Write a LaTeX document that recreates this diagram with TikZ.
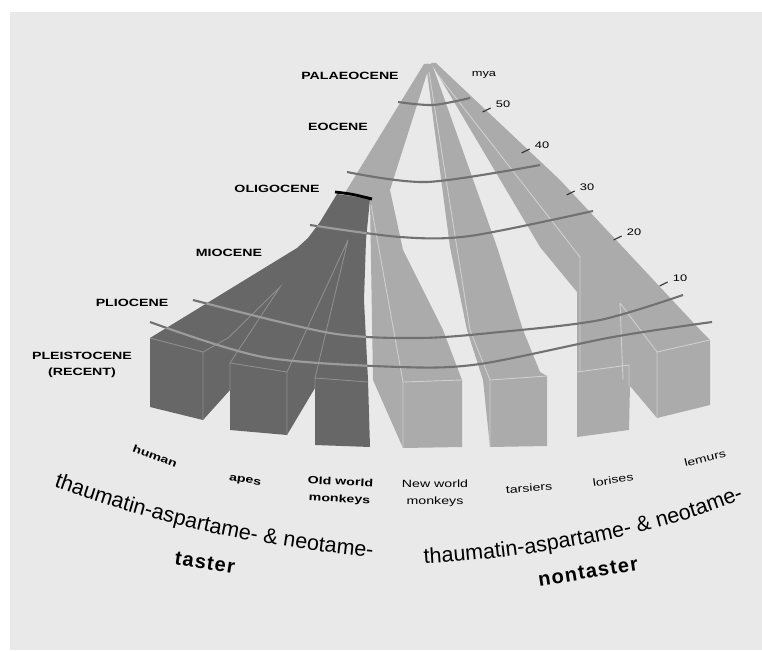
\documentclass[tikz,border=0pt]{standalone}
\usepackage{fontspec}
\setmainfont{Liberation Sans}
\newfontfamily\widefont{Liberation Sans}[FakeStretch=1.35]
\newfontfamily\trackfont{Liberation Sans}[LetterSpace=6]
\usetikzlibrary{decorations.text}
\definecolor{paper}{HTML}{E9E9E9}
\definecolor{bandlight}{HTML}{ABABAB}
\definecolor{banddark}{HTML}{676767}
\definecolor{arcline}{HTML}{717171}
\definecolor{arcpale}{HTML}{9C9C9C}
\definecolor{edgepale}{HTML}{CFCFCF}
\definecolor{edgedark}{HTML}{8E8E8E}
\newcommand{\trunkoutline}{(337,194) -- (370,199) -- (366,240) -- (364,300) -- (368,380)
  -- (370,447) -- (315,445) -- (315,388) -- (287,435) -- (230,430) -- (230,390)
  -- (203,420) -- (150,407) -- (150,338) -- (297,248) -- (308,238) -- (320,222) -- cycle}
\newcommand{\epocharcs}[1]{%
  \draw[#1] plot[smooth] coordinates {(398,102) (433,105) (470,98)};
  \draw[#1] plot[smooth] coordinates {(347,172) (427,182) (540,165)};
  \draw[#1] plot[smooth] coordinates {(310,225) (400,237) (470,236) (593,211)};
  \draw[#1] plot[smooth] coordinates {(193,300) (330,333) (420,338) (500,332) (600,320) (683,295)};
  \draw[#1] plot[smooth] coordinates {(150,322) (263,357) (400,367) (480,364) (613,337) (712,322)};}
\begin{document}
\begin{tikzpicture}[x=1pt,y=-1pt,
    band/.style={fill=bandlight},
    trunk/.style={fill=banddark},
    paleedge/.style={draw=edgepale,line width=0.9},
    darkedge/.style={draw=edgedark,line width=0.9},
    epoch/.style={inner sep=0,align=center,font={\widefont\bfseries\fontsize{10.5}{16}\selectfont}},
    taxon/.style={inner sep=0,align=center,font={\widefont\fontsize{10.5}{17}\selectfont}},
    tastertaxon/.style={taxon,font={\widefont\bfseries\fontsize{10.5}{17}\selectfont}},
    mya/.style={inner sep=0,font={\widefont\fontsize{9.5}{11}\selectfont}},
    tickmark/.style={draw=black!80,line width=1.1},
    verdict/.style={inner sep=0,font={\trackfont\bfseries\fontsize{20}{22}\selectfont}}]
\useasboundingbox (0,0) rectangle (762,652);
\fill[white] (0,0) rectangle (762,652);
\fill[paper] (10,12) rectangle (762,650);
% nontaster bands
\fill[band] (424,64) -- (430,64) -- (390,190) -- (403,250) -- (443,330) -- (462,380)
  -- (462,447) -- (403,448) -- (373,380) -- (370,200) -- (343,196) -- cycle;
\fill[band] (426,64) -- (432,64) -- (497,247) -- (523,330) -- (540,372) -- (547,376)
  -- (547,446) -- (490,447) -- (483,380) -- (467,330) -- (450,247) -- cycle;
\fill[band] (431,63) -- (436,63) -- (560,180) -- (703,333) -- (710,340) -- (710,405)
  -- (657,418) -- (630,386) -- (629,430) -- (577,437) -- (577,292) -- (540,247) -- cycle;
\draw[paleedge] (371,205) -- (403,382) -- (403,448) (403,382) -- (462,380);
\draw[paleedge] (429,72) -- (470,330) -- (490,380) -- (490,447) (490,380) -- (547,376);
\draw[paleedge] (438,75) -- (580,257) -- (580,372) (577,372) -- (629,365) -- (629,386);
\draw[paleedge] (620,303) -- (623,380) (620,303) -- (657,352) -- (710,340) (657,352) -- (657,418);
% taster trunk
\fill[trunk] \trunkoutline;
\draw[darkedge] (150,338) -- (203,352) -- (203,420) (203,352) -- (228,338) -- (280,287)
  -- (230,363) -- (230,390);
\draw[darkedge] (230,363) -- (287,372) -- (287,435) (287,372) -- (348,240) -- (315,378)
  -- (315,388) (315,378) -- (368,382);
% epoch boundaries
\epocharcs{arcline,line width=2.1}
\begin{scope}
  \clip \trunkoutline;
  \epocharcs{arcpale,line width=2.1}
\end{scope}
\draw[line width=2.8,black] (335,192) .. controls (352,194) .. (372,199);
% epochs
\node[epoch] (palaeo) at (350,76) {PALAEOCENE};
\node[epoch] (eo) at (338,127) {EOCENE};
\node[epoch] (oligo) at (277,189) {OLIGOCENE};
\node[epoch] (mio) at (229,253) {MIOCENE};
\node[epoch] (plio) at (132,303) {PLIOCENE};
\node[epoch] (pleisto) at (82,365) {PLEISTOCENE\\(RECENT)};
% time scale
\node[mya] (myaunit) at (484,75) {mya};
\foreach \yr/\px/\py in {50/503/104,40/542/145,30/587/187,20/634/232,10/680/278}{
  \node[mya] (n\yr) at (\px,\py) {\yr};
  \draw[tickmark] (n\yr.west) ++(-13,8) -- ++(8,-4);
}
% taxa
\node[tastertaxon,rotate=-21] (human) at (155,456) {human};
\node[tastertaxon,rotate=-9] (apes) at (245,481) {apes};
\node[tastertaxon,rotate=-3] (owm) at (340,491) {Old world\\monkeys};
\node[taxon] (nwm) at (435,493) {New world\\monkeys};
\node[taxon,rotate=4] (tarsiers) at (529,488) {tarsiers};
\node[taxon,rotate=8] (lorises) at (613,480) {lorises};
\node[taxon,rotate=14] (lemurs) at (705,458) {lemurs};
% sweeteners
\path[decorate,decoration={text along path,text align=center,
  text={|\fontsize{21.5}{22}\selectfont|thaumatin-aspartame- {\&} neotame-}}]
  (30,478) .. controls (145,522) and (260,549) .. (398,559);
\node[verdict,rotate=-9] (taster) at (205,563) {taster};
\path[decorate,decoration={text along path,text align=center,
  text={|\fontsize{21.5}{22}\selectfont|thaumatin-aspartame- {\&} neotame-}}]
  (402,565) .. controls (520,560) and (660,538) .. (764,490);
\node[verdict,rotate=9] (nontaster) at (588,572) {nontaster};
\end{tikzpicture}
\end{document}
